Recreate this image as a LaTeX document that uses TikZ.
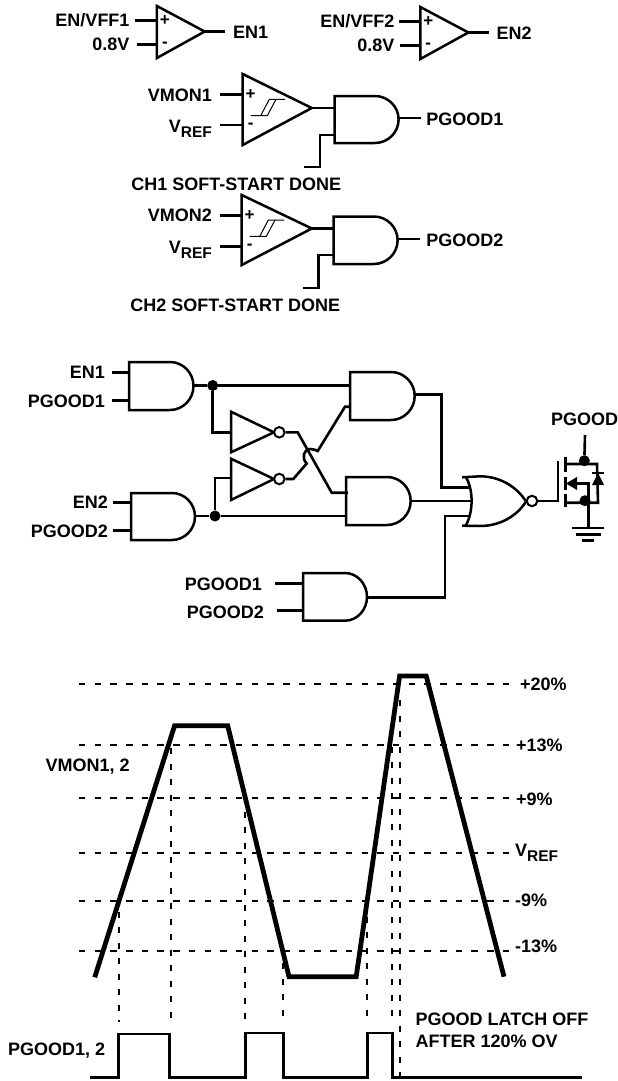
\documentclass[tikz,border=0pt]{standalone}
\usepackage{fontspec}
\setmainfont{Liberation Sans}
\newcommand{\lfont}{\fontsize{18}{20}\selectfont\bfseries}
\newcommand{\vref}{V\raisebox{-4.5pt}{\fontsize{15.5}{16}\selectfont REF}}
\tikzset{
  lab/.style={font=\lfont,inner sep=0pt,text height=13pt,text depth=0pt},
  sgn/.style={font=\fontsize{17}{18}\selectfont\bfseries,inner sep=0pt},
  wire/.style={line width=2.6pt,line cap=butt,line join=miter},
  gate/.style={line width=2.5pt,line join=miter,fill=white},
  dot/.style={circle,fill=black,draw=none,inner sep=0pt,minimum size=11pt},
  bub/.style={circle,fill=white,draw=black,line width=2pt,inner sep=0pt,minimum size=10.5pt},
  hdash/.style={line width=1.7pt,dash pattern=on 6.5pt off 9.2pt},
  vdash/.style={line width=1.9pt,dash pattern=on 6pt off 9.5pt},
  wave/.style={line width=4.8pt,line join=miter,line cap=butt},
  pulse/.style={line width=2.8pt,line join=miter,line cap=butt},
  thinw/.style={line width=1.2pt}
}
% name, xleft, ytop, ybot, xflat, xtip, ya, yb, yout
\newcommand{\andgate}[9]{%
  \draw[gate] (#2,#3) -- (#5,#3)
    .. controls ({#5+0.55*(#6-#5)},#3) and (#6,{(#3+#4)/2-0.55*(#4-#3)/2}) .. (#6,{(#3+#4)/2})
    .. controls (#6,{(#3+#4)/2+0.55*(#4-#3)/2}) and ({#5+0.55*(#6-#5)},#4) .. (#5,#4)
    -- (#2,#4) -- cycle;
  \coordinate (#1-a) at (#2,#7);
  \coordinate (#1-b) at (#2,#8);
  \coordinate (#1-o) at (#6,#9);
}
% name, xleft, ytop, ybot, xapex, yapex, yplus, yminus
\newcommand{\cmpgate}[8]{%
  \draw[gate] (#2,#3) -- (#5,#6) -- (#2,#4) -- cycle;
  \coordinate (#1-p) at (#2,#7);
  \coordinate (#1-m) at (#2,#8);
  \coordinate (#1-o) at (#5,#6);
  \node[sgn] (#1-ps) at ({#2+8},{#7}) {+};
  \node[sgn] (#1-ms) at ({#2+8},{#8+0.5}) {-};
}
\newcommand{\hyst}[2]{%
  \draw[line width=1pt] (#1,#2+16.4) -- (#1+16.6,#2+16.4) -- (#1+25.3,#2) -- (#1+34.3,#2);
  \draw[line width=1pt] (#1+10,#2+16.4) -- (#1+18.6,#2) -- (#1+25.3,#2);
}
\begin{document}
\begin{tikzpicture}[x=1pt,y=-1pt]
\useasboundingbox (0,0) rectangle (618,1081);
% ---------- enable comparators
\cmpgate{c1}{156.9}{6}{58}{204.7}{31.5}{20.5}{44.5}
\node[lab,anchor=east] (tEV1) at (129.7,20.5) {EN/VFF1};
\node[lab,anchor=east] (tV1) at (129.7,44.5) {0.8V};
\node[lab,anchor=west] (tEN1) at (232.8,32) {EN1};
\coordinate (w1a) at (134.6,20.5);
\coordinate (w1b) at (136.5,44.5);
\coordinate (w1c) at (225,31.5);
\draw[wire] (w1a) -- (c1-p);
\draw[wire] (w1b) -- (c1-m);
\draw[wire] (c1-o) -- (w1c);

\cmpgate{c2}{420.3}{7}{59}{468.4}{32.5}{21.5}{45.5}
\node[lab,anchor=east] (tEV2) at (394.6,21.5) {EN/VFF2};
\node[lab,anchor=east] (tV2) at (394.6,45.5) {0.8V};
\node[lab,anchor=west] (tEN2) at (496.3,33) {EN2};
\coordinate (w2a) at (398.6,21.5);
\coordinate (w2b) at (399.6,45.5);
\coordinate (w2c) at (489.4,32.5);
\draw[wire] (w2a) -- (c2-p);
\draw[wire] (w2b) -- (c2-m);
\draw[wire] (c2-o) -- (w2c);

% ---------- PGOOD comparators
\cmpgate{c3}{242.7}{74}{145}{311.8}{108}{94.5}{125}
\hyst{250.7}{99.3}
\andgate{g1}{334.5}{96}{143}{374.9}{398.6}{108}{135}{118}
\node[lab,anchor=east] (tVM1) at (212.1,94.5) {VMON1};
\node[lab,anchor=east] (tVR1) at (212.1,126) {\vref};
\node[lab,anchor=west] (tPG1) at (426.2,118.5) {PGOOD1};
\node[lab,anchor=west] (tCH1) at (131.2,184) {CH1 SOFT-START DONE};
\coordinate (w3a) at (220,94.5);
\coordinate (w3b) at (220,125);
\coordinate (w3c) at (420.7,118);
\coordinate (w3d) at (320,167);
\coordinate (w3e) at (303.9,167);
\draw[wire] (w3a) -- (c3-p);
\draw[wire] (w3b) -- (c3-m);
\draw[wire] (c3-o) -- (g1-a);
\draw[wire] (g1-o) -- (w3c);
\draw[wire] (g1-b) -| (w3d) -- (w3e);

\cmpgate{c4}{241.7}{195}{265}{311.8}{228.5}{215.5}{246.5}
\hyst{249.7}{220}
\andgate{g2}{333.5}{216.5}{264}{373.9}{397.6}{228.5}{255}{239}
\node[lab,anchor=east] (tVM2) at (212.1,215) {VMON2};
\node[lab,anchor=east] (tVR2) at (212.1,247) {\vref};
\node[lab,anchor=west] (tPG2) at (426.2,239.5) {PGOOD2};
\node[lab,anchor=west] (tCH2) at (130.2,305) {CH2 SOFT-START DONE};
\coordinate (w4a) at (220,215.5);
\coordinate (w4b) at (220,246.5);
\coordinate (w4c) at (419.9,239);
\coordinate (w4d) at (318.7,288);
\coordinate (w4e) at (302.9,288);
\draw[wire] (w4a) -- (c4-p);
\draw[wire] (w4b) -- (c4-m);
\draw[wire] (c4-o) -- (g2-a);
\draw[wire] (g2-o) -- (w4c);
\draw[wire] (g2-b) -| (w4d) -- (w4e);

% ---------- logic
\andgate{g3}{129}{362}{410}{170}{193.5}{372.5}{400.5}{385.5}
\andgate{g4}{131}{493}{540}{172}{195}{502.5}{530.5}{516}
\andgate{g5}{350}{372}{420}{391}{414.7}{385.5}{406.7}{394.3}
\andgate{g6}{346}{477}{525}{387}{410.7}{492.7}{516}{501}
\andgate{g7}{303}{573}{620.7}{345}{367}{583.7}{610.5}{597.7}
\node[lab,anchor=east] (tA) at (105,372) {EN1};
\node[lab,anchor=east] (tB) at (105,400.5) {PGOOD1};
\node[lab,anchor=east] (tC) at (108,502) {EN2};
\node[lab,anchor=east] (tD) at (108,531) {PGOOD2};
\node[lab,anchor=east] (tE) at (262,583.7) {PGOOD1};
\node[lab,anchor=east] (tF) at (264,611.7) {PGOOD2};
\coordinate (l1) at (112,372.5);
\coordinate (l2) at (112,400.5);
\coordinate (l3) at (113,502.5);
\coordinate (l4) at (113,530.5);
\coordinate (l5) at (275,583.7);
\coordinate (l6) at (276.5,610.5);
\draw[wire] (l1) -- (g3-a);
\draw[wire] (l2) -- (g3-b);
\draw[wire] (l3) -- (g4-a);
\draw[wire] (l4) -- (g4-b);
\draw[wire] (l5) -- (g7-a);
\draw[wire] (l6) -- (g7-b);
\node[dot] (j1) at (212.7,385.5) {};
\node[dot] (j2) at (215,516) {};
\draw[wire] (g3-o) -- (j1) -- (g5-a);
\draw[wire] (g4-o) -- (j2) -- (g6-b);
% inverters
\draw[gate] (231,411.7) -- (274,432.3) -- (231,452.3) -- cycle;
\draw[gate] (231,458.7) -- (274,479) -- (231,500) -- cycle;
\coordinate (i1) at (231,432.3);
\coordinate (i2) at (231,478);
\node[bub] (b1) at (279.3,432.3) {};
\node[bub] (b2) at (279.3,479) {};
\draw[wire] (j1) |- (i1);
\draw[wire] (j2) |- (i2);
\coordinate (x1) at (297.7,432.3);
\coordinate (x2) at (331.7,492.7);
\coordinate (x3) at (348,492.7);
\draw[wire] (b1) -- (x1) -- (x2) -- (x3);
\coordinate (y1) at (293.3,479);
\coordinate (y2) at (306.7,463.5);
\coordinate (y3) at (310,449);
\coordinate (y4) at (317.7,451);
\coordinate (y5) at (345,406.7);
\draw[wire] (b2) -- (y1) -- (y2) .. controls (301,458) and (304,449) .. (y3)
  .. controls (313,449) and (316,450) .. (y4) -- (y5) -- (g5-b);
% NOR
\coordinate (n1) at (470,487.3);
\coordinate (n2) at (472,501);
\coordinate (n3) at (470,516);
\coordinate (n4) at (441.7,487.3);
\coordinate (n5) at (445,516);
\draw[wire] (g5-o) -| (n4) -- (n1);
\draw[thinw] (g6-o) -- (n2);
\draw[wire] (g7-o) -| (n5) -- (n3);
\draw[gate,fill=none] (462,477.3) -- (480,476.3)
   .. controls (500,476.3) and (517,487) .. (526,501.5)
   .. controls (517,516) and (500,526) .. (480,526)
   -- (462,525.7);
\draw[gate,fill=none] (466,477.3) .. controls (473.5,490) and (473.5,512) .. (465.7,525.7);
\node[bub] (b3) at (532,501) {};
% MOSFET
\coordinate (m1) at (558,501);
\coordinate (m2) at (558,461);
\draw[wire] (b3) -- (m1) -- (m2);
\draw[wire] (565.3,456.7) -- (565.3,472);
\draw[wire] (565.3,477.3) -- (565.3,490);
\draw[wire] (565.3,494) -- (565.3,507);
\draw[wire] (565.3,464) -- (597,464) -- (598,502.7) -- (565.3,502.7);
\draw[wire] (588.7,526.7) -- (588.7,483.5) -- (572,483.5);
\fill (566,483.5) -- (577,477) -- (577,490) -- cycle;
\node[dot] (j3) at (585,500.7) {};
\node[dot] (j4) at (584.3,460.7) {};
\coordinate (m3) at (585,435);
\draw[wire] (m3) -- (j4);
\fill (598,473) -- (604,485) -- (592,485) -- cycle;
\draw[line width=2pt] (592,473) -- (604,473);
\draw[wire] (572,528) -- (604,528);
\draw[wire] (575.7,534.3) -- (601,534.3);
\draw[wire] (581.7,540.3) -- (594,540.3);
\node[lab,anchor=west] (tPG) at (551,419) {PGOOD};

% ---------- timing diagram
\foreach \yy/\nm in {684/a,745/b,798/c,852.7/d,900.7/e,950.7/f}{
  \coordinate (hl\nm) at (78.9,\yy);
  \coordinate (hr\nm) at (509,\yy);
  \draw[hdash] (hl\nm) -- (hr\nm);
}
\foreach \xx/\ya/\yb/\nm in {119.4/911.7/1021.7/a,170.7/748/1023/b,245/811.7/1023/c,283.2/963/1023/d,366.8/916.7/1023/e,392.3/746.7/1023/f,400.3/700/1076/g}{
  \coordinate (vt\nm) at (\xx,\ya);
  \coordinate (vb\nm) at (\xx,\yb);
  \draw[vdash] (vt\nm) -- (vb\nm);
}
\draw[wave] (94.7,977.3) -- (174.6,725.7) -- (227.7,725.7) -- (289,976.7) -- (356.2,976.7) -- (399.6,676) -- (426.2,676) -- (504,976.7);
\draw[pulse] (89.8,1077.7) -- (118.8,1077.7) -- (118.8,1034) -- (169.7,1034) -- (169.7,1077.7) -- (245.5,1077.7) -- (245.5,1033) -- (283.7,1033) -- (283.7,1077.7) -- (367.8,1077.7) -- (367.8,1033) -- (392.7,1033) -- (392.7,1077.7) -- (582,1077.7);
\node[lab,anchor=west] (p20) at (520,684) {+20\%};
\node[lab,anchor=west] (p13) at (516,745) {+13\%};
\node[lab,anchor=west] (p9) at (516,799) {+9\%};
\node[lab,anchor=west] (pv) at (515,850) {\vref};
\node[lab,anchor=west] (m9) at (515,900) {-9\%};
\node[lab,anchor=west] (m13) at (515,946) {-13\%};
\node[lab,anchor=west] (tvm) at (45.4,765) {VMON1, 2};
\node[lab,anchor=west] (tpg) at (7.9,1049) {PGOOD1, 2};
\node[lab,anchor=west] (tl1) at (415.4,1019) {PGOOD LATCH OFF};
\node[lab,anchor=west] (tl2) at (415.4,1041) {AFTER 120\% OV};
\end{tikzpicture}
\end{document}
